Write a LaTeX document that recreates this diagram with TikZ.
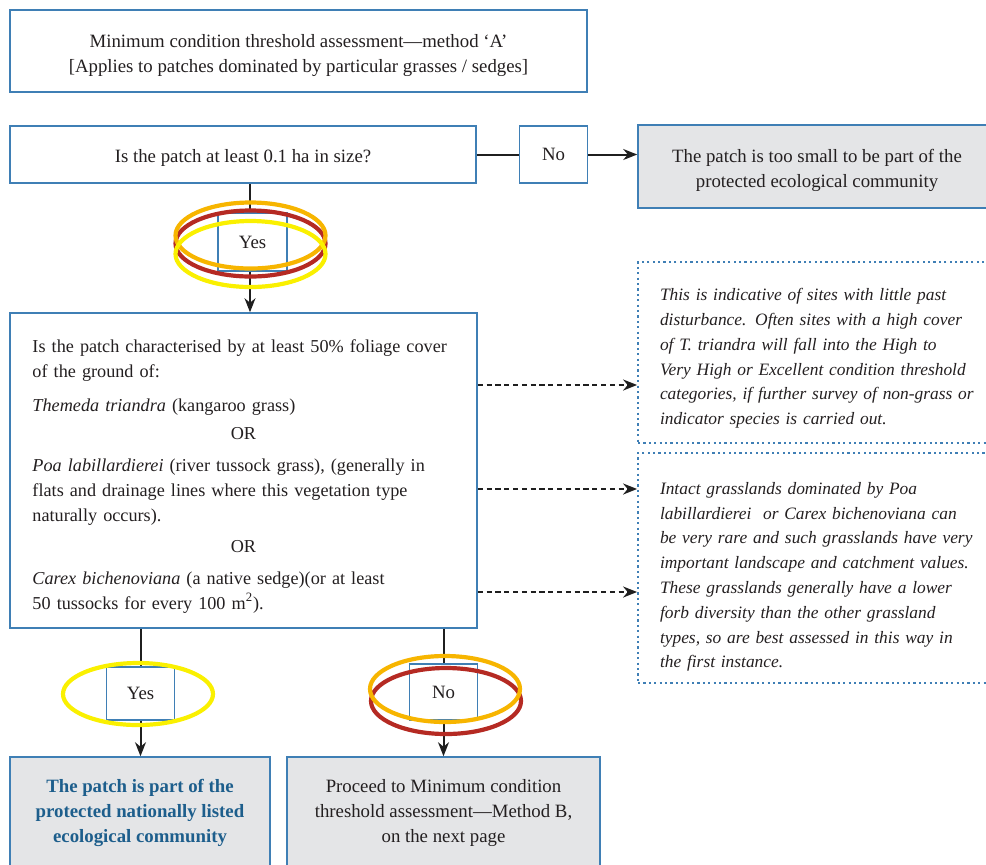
\documentclass[tikz,border=0pt]{standalone}
\usepackage{fontspec}
\setmainfont{Liberation Serif}
\usepackage{tikz}
\usetikzlibrary{arrows.meta, positioning}
\definecolor{boxblue}{HTML}{3F7FB5}
\definecolor{textblue}{HTML}{1D5E8C}
\definecolor{fillgrey}{HTML}{E4E5E7}
\definecolor{inkgrey}{HTML}{231F20}
\definecolor{ringorange}{HTML}{F7B500}
\definecolor{ringred}{HTML}{B52A23}
\definecolor{ringyellow}{HTML}{FAF000}
\tikzset{
>={Stealth[length=7pt, width=5.5pt]}, % solid arrow heads
box/.style={draw=boxblue, line width=0.8pt, align=center, text=inkgrey, inner sep=2pt,
  font=\fontsize{9.4}{12.5}\selectfont}, % every blue framed box
answer/.style={box, minimum width=34pt, minimum height=27pt}, % the small Yes / No boxes
outcome/.style={box, fill=fillgrey}, % grey end boxes
note/.style={draw=boxblue, line width=0.9pt, dash pattern=on 1.1pt off 1.6pt, align=left,
  text=inkgrey, font=\fontsize{8.7}{12.4}\selectfont\itshape}, % dashed remark boxes
link/.style={draw=black!88, line width=1pt}, % connectors
hint/.style={link, dash pattern=on 2.6pt off 1.8pt}, % dashed connectors
ring/.style={line width=2.1pt}, % hand-drawn highlight rings
}

\begin{document}
\begin{tikzpicture}[x=0.5pt, y=-0.5pt]
\useasboundingbox (0,0) rectangle (986,864);
\clip (0,0) rectangle (986,864);

% header
\node[box, minimum width=288.5pt, minimum height=41pt] (title) at (298.5,51)
  {\rule{0pt}{11pt}Minimum condition threshold assessment---method `A'\\ {[Applies to patches dominated by particular grasses / sedges]}};

% first question
\node[box, minimum width=233pt, minimum height=28.5pt] (size) at (243,154.5) {\rule{0pt}{10pt}Is the patch at least 0.1 ha in size?};
\node[answer, minimum height=28.5pt] (sizeno) at (553.5,154.5) {No};
\node[outcome, minimum width=179pt, minimum height=41.5pt] (small) at (817,166.5)
  {\rule{0pt}{11pt}The patch is too small to be part of the\\ protected ecological community};
\node[answer, minimum width=34.5pt, minimum height=29pt] (sizeyes) at (252.5,242) {Yes};

% second question
\node[box, minimum width=233.5pt, minimum height=157.5pt, text width=211pt, align=left,
  font=\fontsize{9.1}{12.5}\selectfont] (cover) at (243.5,470.5)
  {\rule{0pt}{12pt}Is the patch characterised by at least 50\% foliage cover\\
   of the ground of:\\[4.5pt]
   \textit{Themeda triandra} (kangaroo grass)\\[1.5pt]
   \makebox[\linewidth]{OR}\\[3.5pt]
   \textit{Poa labillardierei} (river tussock grass), (generally in\\
   flats and drainage lines where this vegetation type\\
   naturally occurs).\\[3pt]
   \makebox[\linewidth]{OR}\\[3.5pt]
   \textit{Carex bichenoviana} (a native sedge)(or at least\\
   50 tussocks for every 100 m\textsuperscript{2}).};

% remarks
\node[note, minimum width=179pt, minimum height=90.5pt, text width=157pt] (themeda) at (817,352.5)
  {\rule{0pt}{12pt}This is indicative of sites with little past\\
   disturbance. Often sites with a high cover\\
   of T. triandra will fall into the High to\\
   Very High or Excellent condition threshold\\
   categories, if further survey of non-grass or\\
   indicator species is carried out.};
\node[note, minimum width=179pt, minimum height=115pt, text width=157pt] (poa) at (817,568)
  {\rule{0pt}{15pt}Intact grasslands dominated by Poa\\
   labillardierei\ \ or Carex bichenoviana can\\
   be very rare and such grasslands have very\\
   important landscape and catchment values.\\
   These grasslands generally have a lower\\
   forb diversity than the other grassland\\
   types, so are best assessed in this way in\\
   the first instance.};

% answers and outcomes
\node[answer, minimum height=26.5pt] (coveryes) at (140.5,693.5) {Yes};
\node[answer, minimum height=28pt] (coverno) at (443.5,692) {No};
\node[outcome, minimum width=130pt, minimum height=56pt, text=textblue, font=\fontsize{9.4}{12.5}\selectfont\bfseries] (listed) at (140,813)
  {The patch is part of the\\ protected nationally listed\\ ecological community};
\node[outcome, minimum width=156.5pt, minimum height=56pt] (methodb) at (443.5,813)
  {Proceed to Minimum condition\\ threshold assessment---Method B,\\ on the next page};

% connectors
\draw[link] (sizeyes.north -| 250,0) -- (size.south -| 250,0);
\draw[link] (size.east) -- (sizeno.west);
\draw[link, ->] (sizeno.east) -- (sizeno.east -| small.west);
\draw[link, ->] (sizeyes.south -| 250,0) -- (cover.north -| 250,0);
\draw[hint, ->] ([yshift=42.75pt]cover.east) -- ([yshift=42.75pt]cover.east -| themeda.west);
\draw[hint, ->] ([yshift=-9.25pt]cover.east) -- ([yshift=-9.25pt]cover.east -| poa.west);
\draw[hint, ->] ([yshift=-60.75pt]cover.east) -- ([yshift=-60.75pt]cover.east -| poa.west);
\draw[link] (cover.south -| coveryes) -- (coveryes.north);
\draw[link, ->] (coveryes.south) -- (coveryes.south |- listed.north);
\draw[link] (cover.south -| coverno) -- (coverno.north);
\draw[link, ->] (coverno.south) -- (coverno.south |- methodb.north);

% highlight rings
\draw[ring, ringred] (250.5,243.5) ellipse [x radius=37.5pt, y radius=16.5pt];
\draw[ring, ringorange] (250.5,235.5) ellipse [x radius=37.5pt, y radius=16.5pt];
\draw[ring, ringyellow] (250.5,254) ellipse [x radius=37.5pt, y radius=16.5pt];
\draw[ring, ringyellow] (138,694) ellipse [x radius=37.5pt, y radius=15.5pt];
\draw[ring, ringred] (446,701) ellipse [x radius=37.5pt, y radius=16.5pt];
\draw[ring, ringorange] (445,689) ellipse [x radius=37.5pt, y radius=16.5pt];
\end{tikzpicture}
\end{document}
